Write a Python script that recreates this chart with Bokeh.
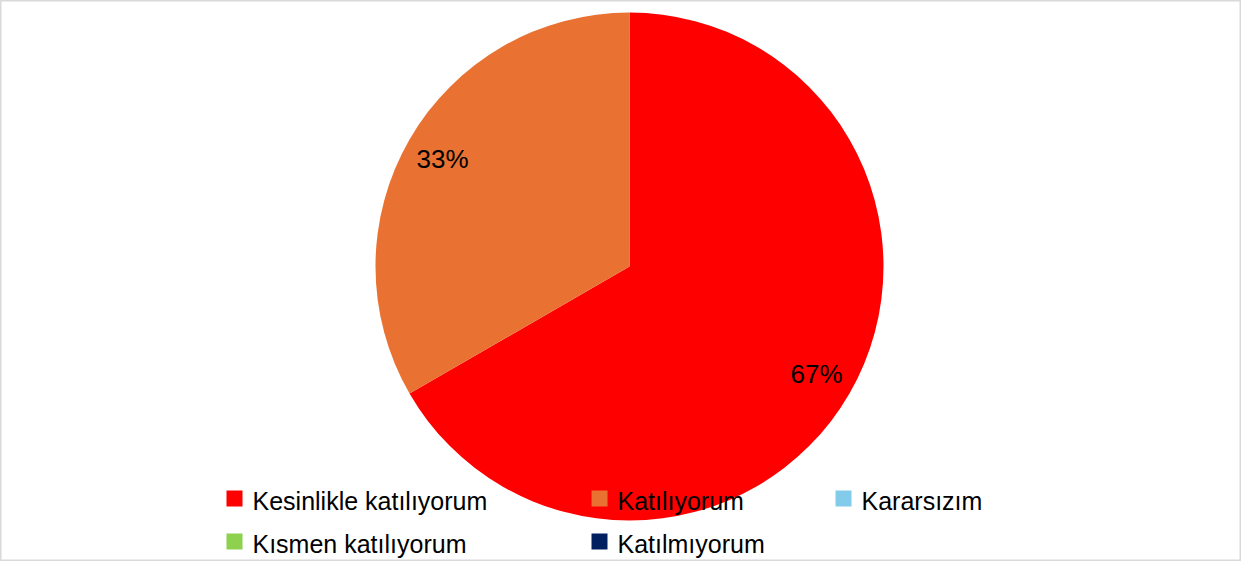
import math
from bokeh.plotting import figure
from bokeh.models import Range1d, ColumnDataSource
from bokeh.core.properties import value
from bokeh.embed import file_html
from bokeh.resources import INLINE

# ---- data ----
categories = ["Kesinlikle katılıyorum", "Katılıyorum", "Kararsızım",
              "Kısmen katılıyorum", "Katılmıyorum"]
values = [2, 1, 0, 0, 0]
colors = ["#FF0000", "#E97132", "#83CBEB", "#8ED14F", "#002060"]

# ---- layout ----
W, H = 1241, 561
cx, cy = 629, 266          # pie centre (pixels from plot top-left)
R = 254
FONT = value("Liberation Sans")

p = figure(width=W, height=H, output_backend="svg", toolbar_location=None,
           x_range=Range1d(-cx, W - cx), y_range=Range1d(-(H - cy), cy),
           x_axis_type=None, y_axis_type=None, min_border=0)
p.grid.visible = False
p.outline_line_color = "#D9D9D9"
p.outline_line_width = 2
p.background_fill_color = "white"
p.border_fill_color = "white"

total = sum(values)
starts, ends, cols, lx, ly, lt = [], [], [], [], [], []
cum = 0.0
for v, c in zip(values, colors):
    f0 = cum / total
    cum += v
    f1 = cum / total
    if v <= 0:
        continue
    a0 = math.pi / 2 - 2 * math.pi * f0
    a1 = math.pi / 2 - 2 * math.pi * f1
    starts.append(a0)
    ends.append(a1)
    cols.append(c)
    mid = (a0 + a1) / 2
    lx.append(0.85 * R * math.cos(mid))
    ly.append(0.85 * R * math.sin(mid))
    lt.append(f"{round(v / total * 100)}%")

src = ColumnDataSource(dict(start=starts, end=ends, color=cols))
p.wedge(x=0, y=0, radius=R, start_angle="start", end_angle="end",
        direction="clock", fill_color="color", line_color=None, source=src)

p.text(x=lx, y=ly, text=lt, text_align="center", text_baseline="middle",
       text_font=FONT, text_font_size="26px", text_color="black")

# ---- legend (manual) ----
col_sq_x = [226, 591, 835]     # plot px of square left edge per column
row_y = [498, 541]             # plot px of row centre
SQ = 16
layout = [(0, 0), (0, 1), (0, 2), (1, 0), (1, 1)]
sx, sy, tx, ty = [], [], [], []
for (r, c) in layout:
    sx.append(col_sq_x[c] + SQ / 2 - cx)
    sy.append(cy - row_y[r])
    tx.append(col_sq_x[c] + SQ + 10 - cx)
    ty.append(cy - row_y[r] - 2)
p.rect(x=sx, y=sy, width=SQ, height=SQ, fill_color=colors, line_color=None)
p.text(x=tx, y=ty, text=categories, text_align="left", text_baseline="middle",
       text_font=FONT, text_font_size="25px", text_color="black")

open("out.html", "w").write(file_html(p, INLINE))
